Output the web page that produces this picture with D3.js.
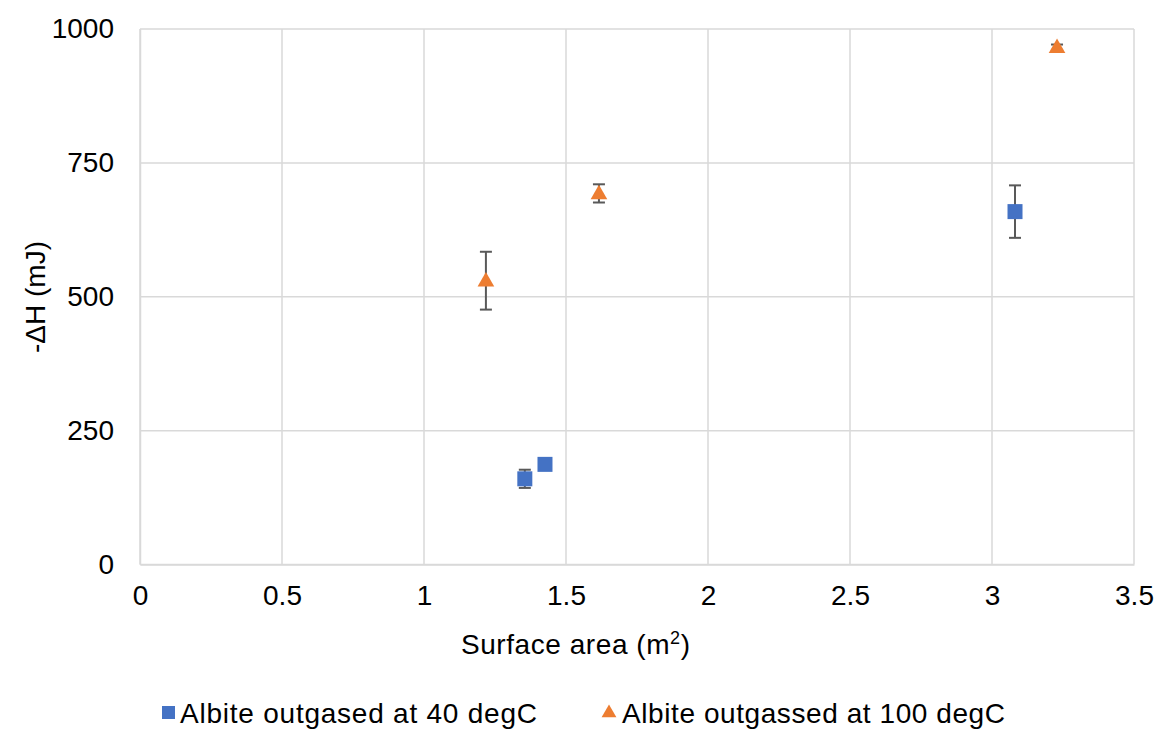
<!DOCTYPE html>
<html><head><meta charset="utf-8">
<script src="https://cdn.jsdelivr.net/npm/d3@7"></script>
<style>body{margin:0;background:#fff;}text{font-family:"Liberation Sans",Arial,sans-serif;fill:#000;}</style>
</head><body>
<svg id="c" width="1158" height="729"></svg>
<script>
const xTicks = [0, 0.5, 1, 1.5, 2, 2.5, 3, 3.5];
const yTicks = [0, 250, 500, 750, 1000];
const series40X = [1.355, 1.426, 3.081];
const series40Y = [160, 187, 659];
const series40Err = [17, 0, 49];
const series100X = [1.218, 1.616, 3.229];
const series100Y = [530, 693, 966];
const series100Err = [54, 17, 5];
const seriesNames = ["Albite outgased at 40 degC", "Albite outgassed at 100 degC"];
const seriesColors = ["#4472C4", "#ED7D31"];

const svg = d3.select("#c");
const L = 140, R = 1134, T = 29, B = 564.5;
const x = d3.scaleLinear().domain([0, 3.5]).range([L, R]);
const y = d3.scaleLinear().domain([0, 1000]).range([B, T]);
const fs = 28;

// gridlines
svg.append("g").selectAll("line").data(xTicks).join("line")
  .attr("x1", d => x(d)).attr("x2", d => x(d)).attr("y1", T).attr("y2", B)
  .attr("stroke", "#d9d9d9").attr("stroke-width", 1.5);
svg.append("g").selectAll("line").data(yTicks).join("line")
  .attr("x1", L).attr("x2", R).attr("y1", d => y(d)).attr("y2", d => y(d))
  .attr("stroke", "#d9d9d9").attr("stroke-width", 1.5);

// axes (labels only)
const xAxis = d3.axisBottom(x).tickValues(xTicks).tickSize(0).tickPadding(21).tickFormat(d => String(d));
const gx = svg.append("g").attr("transform", `translate(0,${B})`).call(xAxis);
gx.select(".domain").attr("stroke", "#d9d9d9").attr("stroke-width", 1.5);
gx.selectAll("text").style("font-size", fs + "px").attr("fill", "#000");

const yAxis = d3.axisLeft(y).tickValues(yTicks).tickSize(0).tickPadding(26).tickFormat(d => String(d));
const gy = svg.append("g").attr("transform", `translate(${L},0)`).call(yAxis);
gy.select(".domain").attr("stroke", "#d9d9d9").attr("stroke-width", 1.5);
gy.selectAll("text").style("font-size", fs + "px").attr("fill", "#000");

// axis titles
const xt = svg.append("text").attr("x", (L + R) / 2 - 60).attr("y", 654).attr("text-anchor", "start").style("font-size", fs + "px")
  .attr("textLength", 229).attr("lengthAdjust", "spacing");
xt.attr("x", 461);
xt.append("tspan").text("Surface area (m");
xt.append("tspan").text("2").attr("dy", -10).style("font-size", "18px");
xt.append("tspan").text(")").attr("dy", 10);

svg.append("text").attr("transform", "translate(45,297) rotate(-90)").attr("text-anchor", "middle")
  .style("font-size", fs + "px").text("-ΔH (mJ)");

// error bars
function errBars(xs, ys, es) {
  const g = svg.append("g");
  xs.forEach((xv, i) => {
    if (!es[i]) return;
    const cx = x(xv), y1 = y(ys[i] + es[i]), y2 = y(ys[i] - es[i]);
    g.append("line").attr("x1", cx).attr("x2", cx).attr("y1", y1).attr("y2", y2).attr("stroke", "#595959").attr("stroke-width", 2);
    [y1, y2].forEach(yy => g.append("line").attr("x1", cx - 6).attr("x2", cx + 6).attr("y1", yy).attr("y2", yy).attr("stroke", "#595959").attr("stroke-width", 2));
  });
}
errBars(series40X, series40Y, series40Err);
errBars(series100X, series100Y, series100Err);

// markers
svg.append("g").selectAll("rect").data(series40X).join("rect")
  .attr("x", (d) => x(d) - 7.5).attr("y", (d, i) => y(series40Y[i]) - 7.5)
  .attr("width", 15).attr("height", 15).attr("fill", seriesColors[0]);
const tri = d3.symbol().type(d3.symbolTriangle).size(120);
svg.append("g").selectAll("path").data(series100X).join("path")
  .attr("d", tri).attr("transform", (d, i) => `translate(${x(d)},${y(series100Y[i]) + 1})`)
  .attr("fill", seriesColors[1]);

// legend
const lg = svg.append("g");
lg.append("rect").attr("x", 162).attr("y", 706).attr("width", 13).attr("height", 13).attr("fill", seriesColors[0]);
lg.append("text").attr("x", 180).attr("y", 723).style("font-size", fs + "px")
  .attr("textLength", 357).attr("lengthAdjust", "spacing").text(seriesNames[0]);
lg.append("path").attr("d", d3.symbol().type(d3.symbolTriangle).size(95)).attr("transform", "translate(609,713)").attr("fill", seriesColors[1]);
lg.append("text").attr("x", 622).attr("y", 723).style("font-size", fs + "px")
  .attr("textLength", 383).attr("lengthAdjust", "spacing").text(seriesNames[1]);
</script>
</body></html>
